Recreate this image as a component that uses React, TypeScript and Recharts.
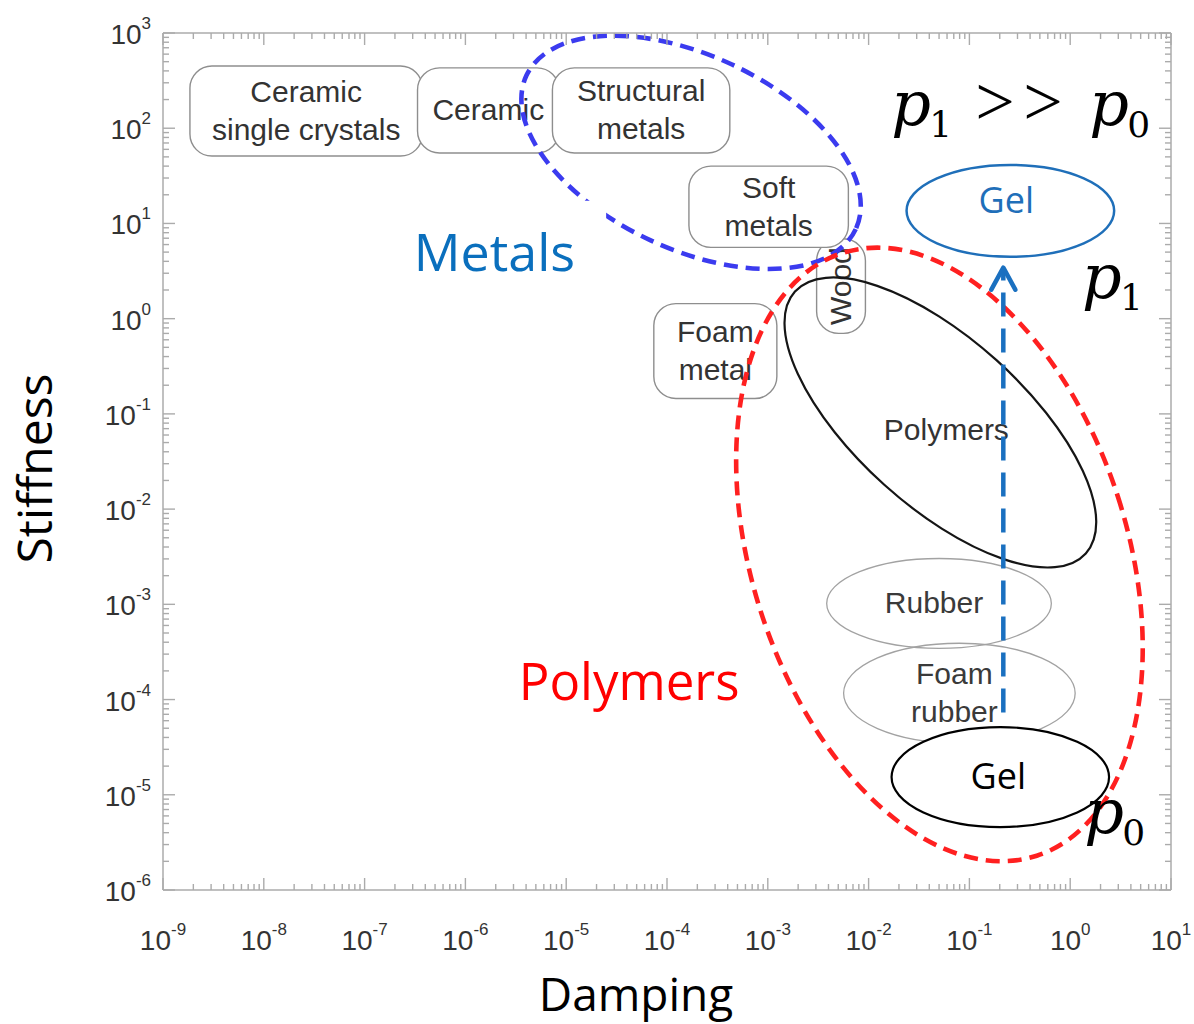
import React from 'react';
import { ScatterChart, Scatter, XAxis, YAxis, ReferenceArea, ReferenceLine, ReferenceDot } from 'recharts';

const dampingDecades = [1e-9, 1e-8, 1e-7, 1e-6, 1e-5, 1e-4, 1e-3, 1e-2, 1e-1, 1, 10];
const stiffnessDecades = [1e-6, 1e-5, 1e-4, 1e-3, 1e-2, 1e-1, 1, 10, 100, 1000];
const minorSteps = [2, 3, 4, 5, 6, 7, 8, 9];

// material classes shown as rounded boxes
const boxLabels = [['Ceramic', 'single crystals'], ['Ceramic'], ['Structural', 'metals'], ['Wood'], ['Soft', 'metals'], ['Foam', 'metal']];
const boxDamping = [[1.85e-9, 3.75e-7], [3.35e-7, 8.5e-6], [7.3e-6, 4.2e-4], [3.05e-3, 9.3e-3], [1.65e-4, 6.3e-3], [7.4e-5, 1.23e-3]];
const boxStiffness = [[51, 450], [55, 430], [55, 430], [0.7, 6.9], [5.6, 40], [0.145, 1.44]];

// material classes shown as ellipses
const ovalLabels = [['Rubber'], ['Foam', 'rubber']];
const ovalDamping = [[3.84e-3, 0.65], [5.65e-3, 1.12]];
const ovalStiffness = [[3.45e-4, 3.03e-3], [3.48e-5, 3.9e-4]];

// family envelopes: ranges along the ellipse axes before tilting
const envelopeNames = ['metals', 'polymers', 'polymerCore'];
const envelopeLabels = ['', '', 'Polymers'];
const envelopeDamping = [[2.73e-6, 0.011], [6.95e-4, 3.66], [5.9e-4, 4.5]];
const envelopeStiffness = [[5.36, 581], [1.58e-6, 7.07], [0.0107, 0.617]];

// gel before (p0) and after (p1)
const gelStates = ['p0', 'p1'];
const gelDamping = [[0.0169, 2.43], [0.0238, 2.73]];
const gelStiffness = [[4.58e-6, 5.13e-5], [4.47, 41.2]];

// gel stiffening path
const pathDamping = 0.217;
const pathStiffness = [7.3e-5, 3.43];

// free annotations [damping, stiffness]
const familyLabels = ['Metals', 'Polymers'];
const familyLabelAt = [[1.94e-6, 3.19], [4.21e-5, 9.84e-5]];
const metalsBackDamping = [2.22e-7, 2.49e-5];
const metalsBackStiffness = [2.11, 17.3];
const stateLabelAt = [[0.327, 108], [2.6, 1.66], [2.73, 3.96e-6]];

const gelCentres = gelStates.map((state, i) => ({
  state,
  damping: Math.sqrt(gelDamping[i][0] * gelDamping[i][1]),
  stiffness: Math.sqrt(gelStiffness[i][0] * gelStiffness[i][1]),
}));

const toTicks = (decades: number[]) =>
  decades.flatMap((d, i) => (i === decades.length - 1 ? [d] : [d, ...minorSteps.map((k) => k * d)]));
const dampingTicks = toTicks(dampingDecades);
const stiffnessTicks = toTicks(stiffnessDecades);
const majorDamping = new Set(dampingDecades);
const majorStiffness = new Set(stiffnessDecades);

const FRAME = '#ababab';
const frameLine = { stroke: FRAME, strokeWidth: 1.5 };
const sans = 'Liberation Sans, Arial, sans-serif';
const calibri = 'Open Sans, sans-serif';
const serif = 'DejaVu Serif, Liberation Serif, serif';

const envelopeStyle: Record<string, { stroke: string; dash?: string; width: number; tilt: number }> = {
  metals: { stroke: '#3b3bef', dash: '14 8', width: 4.6, tilt: 25 },
  polymers: { stroke: '#ff2020', dash: '14 8', width: 4.6, tilt: -17.9 },
  polymerCore: { stroke: '#151515', width: 2.2, tilt: 42 },
};

function LogTick(props: any) {
  const { x, y, payload, side } = props;
  const v = payload.value;
  const horiz = side === 'bottom' || side === 'top';
  const major = (horiz ? majorDamping : majorStiffness).has(v);
  const len = major ? 12 : 6;
  const exp = Math.round(Math.log10(v));
  let seg;
  if (side === 'bottom') seg = { x1: x, x2: x, y1: y, y2: y - len };
  else if (side === 'top') seg = { x1: x, x2: x, y1: y, y2: y + len };
  else if (side === 'left') seg = { x1: x, x2: x + len, y1: y, y2: y };
  else seg = { x1: x, x2: x - len, y1: y, y2: y };
  return (
    <g>
      <line {...seg} stroke={FRAME} strokeWidth={1.4} />
      {major && side === 'bottom' && (
        <text x={x} y={y + 60} textAnchor="middle" fontSize={28} fill="#333" fontFamily={sans}>
          10<tspan dy={-15} fontSize={17}>{exp}</tspan>
        </text>
      )}
      {major && side === 'left' && (
        <text x={x - 12} y={y + 11} textAnchor="end" fontSize={28} fill="#333" fontFamily={sans}>
          10<tspan dy={-15} fontSize={17}>{exp}</tspan>
        </text>
      )}
    </g>
  );
}

function lineStack(lines: string[], cx: number, cy: number, step: number, lift: number) {
  return lines.map((ln, i) => (
    <tspan key={i} x={cx} y={cy + (i - (lines.length - 1) / 2) * step + lift}>
      {ln}
    </tspan>
  ));
}

const boxShape = (lines: string[]) => (p: any) => {
  const { x, y, width, height } = p;
  const cx = x + width / 2;
  const cy = y + height / 2;
  const vertical = width < 60;
  return (
    <g>
      <rect x={x} y={y} width={width} height={height} rx={Math.min(22, width / 2)} fill="#fff" stroke="#8e8e8e" strokeWidth={1.4} />
      <text
        transform={vertical ? `rotate(-90 ${cx} ${cy})` : undefined}
        textAnchor="middle"
        fontSize={30}
        fill="#333"
        fontFamily={sans}
      >
        {lineStack(lines, cx, cy, 38, 10)}
      </text>
    </g>
  );
};

const ovalShape = (lines: string[]) => (p: any) => {
  const { x, y, width, height } = p;
  const cx = x + width / 2;
  const cy = y + height / 2;
  return (
    <g>
      <ellipse cx={cx} cy={cy} rx={width / 2} ry={height / 2} fill="none" stroke="#a2a2a2" strokeWidth={1.3} />
      <text textAnchor="middle" fontSize={30} fill="#3a3a3a" fontFamily={sans}>
        {lineStack(lines, cx - 5, cy, 38, 10)}
      </text>
    </g>
  );
};

const envelopeShape = (name: string, label: string) => (p: any) => {
  const { x, y, width, height } = p;
  const s = envelopeStyle[name];
  const cx = x + width / 2;
  const cy = y + height / 2;
  return (
    <g>
      <ellipse
        cx={cx}
        cy={cy}
        rx={width / 2}
        ry={height / 2}
        transform={`rotate(${s.tilt} ${cx} ${cy})`}
        fill="none"
        stroke={s.stroke}
        strokeWidth={s.width}
        strokeDasharray={s.dash}
      />
      {label && (
        <text x={cx + 6} y={cy + 18} textAnchor="middle" fontSize={30} fill="#333" fontFamily={sans}>
          {label}
        </text>
      )}
    </g>
  );
};

const gelShape = (state: string) => (p: any) => {
  const { x, y, width, height } = p;
  const cx = x + width / 2;
  const cy = y + height / 2;
  const color = state === 'p1' ? '#1f6fb9' : '#000';
  return (
    <g>
      <ellipse cx={cx} cy={cy} rx={width / 2} ry={height / 2} fill="#fff" stroke={color} strokeWidth={state === 'p1' ? 2.5 : 2.2} />
      <text x={state === 'p1' ? cx - 4 : cx - 2} y={state === 'p1' ? cy + 2 : cy + 12} textAnchor="middle" fontSize={36} fill={color} fontFamily={calibri}>
        Gel
      </text>
    </g>
  );
};

const PathArrow = (p: any) => {
  const { x1, y1, x2, y2 } = p;
  const color = '#1a70c0';
  const top = Math.min(y1, y2);
  const bottom = Math.max(y1, y2);
  return (
    <g>
      <line x1={x1} y1={bottom} x2={x2} y2={top + 2} stroke={color} strokeWidth={4.5} strokeDasharray="24 12" />
      <polyline
        points={`${x2 - 12},${top + 22} ${x2},${top} ${x2 + 12},${top + 22}`}
        fill="none"
        stroke={color}
        strokeWidth={4.5}
        strokeLinecap="round"
        strokeLinejoin="round"
      />
    </g>
  );
};

const familyText = (label: string) => (p: any) => (
  <text
    x={p.cx}
    y={p.cy}
    textAnchor="middle"
    fontSize={label === 'Metals' ? 52 : 51}
    fill={label === 'Metals' ? '#0a6fbd' : '#ff0000'}
    fontFamily={calibri}
  >
    {label}
  </text>
);

// p with a subscript, laid out from its anchor
function Pee({ cx, cy, sub, left }: { cx: number; cy: number; sub: string; left: number }) {
  return (
    <text y={cy} fontFamily={serif} fill="#000">
      <tspan x={cx + left} fontStyle="italic" fontSize={62}>
        p
      </tspan>
      <tspan x={cx + left + 38} dy={12} fontSize={36}>
        {sub}
      </tspan>
    </text>
  );
}

const stateText = (i: number) => (p: any) => {
  const { cx, cy } = p;
  if (i === 0) {
    return (
      <g>
        <Pee cx={cx} cy={cy} sub="1" left={-130} />
        <text y={cy} fontFamily="Liberation Serif, serif" fontSize={70} fill="#000">
          <tspan x={cx - 46}>{'>'}</tspan>
          <tspan x={cx + 2}>{'>'}</tspan>
        </text>
        <Pee cx={cx} cy={cy} sub="0" left={68} />
      </g>
    );
  }
  return <Pee cx={cx} cy={cy} sub={i === 1 ? '1' : '0'} left={-30} />;
};

const dampingTitle = (props: any) => {
  const vb = props.viewBox || { x: 163, y: 890, width: 1009, height: 134 };
  return (
    <text x={vb.x + vb.width / 2 - 31} y={vb.y + 121} textAnchor="middle" fontSize={46} fill="#000" fontFamily={calibri}>
      Damping
    </text>
  );
};

const stiffnessTitle = (props: any) => {
  const vb = props.viewBox || { x: 0, y: 32, width: 163, height: 858 };
  const x = vb.x + 52;
  const y = vb.y + vb.height / 2 + 7;
  return (
    <text x={x} y={y} transform={`rotate(-90 ${x} ${y})`} textAnchor="middle" fontSize={48} fill="#000" fontFamily={calibri}>
      Stiffness
    </text>
  );
};

const noMark = () => <g />;

export default function App() {
  const logX = { type: 'number' as const, scale: 'log' as const, dataKey: 'damping', domain: [1e-9, 10], allowDataOverflow: true, ticks: dampingTicks, interval: 0 as const, tickSize: 0, tickMargin: 0, tickLine: false, axisLine: frameLine };
  const logY = { type: 'number' as const, scale: 'log' as const, dataKey: 'stiffness', domain: [1e-6, 1e3], allowDataOverflow: true, ticks: stiffnessTicks, interval: 0 as const, tickSize: 0, tickMargin: 0, tickLine: false, axisLine: frameLine };
  return (
    <div style={{ position: 'absolute', left: 0, top: 0, width: 1194, height: 1024, background: '#fff' }}>
      <ScatterChart width={1194} height={1024} margin={{ top: 32, right: 22, bottom: 0, left: 0 }}>
        <XAxis xAxisId={0} {...logX} height={134} tick={<LogTick side="bottom" />} label={dampingTitle} />
        <XAxis xAxisId="top" orientation="top" {...logX} height={1} tick={<LogTick side="top" />} />
        <YAxis yAxisId={0} {...logY} width={163} tick={<LogTick side="left" />} label={stiffnessTitle} />
        <YAxis yAxisId="right" orientation="right" {...logY} width={1} tick={<LogTick side="right" />} />

        {boxLabels.map((lines, i) => (
          <ReferenceArea
            key={`box-${i}`}
            x1={boxDamping[i][0]}
            x2={boxDamping[i][1]}
            y1={boxStiffness[i][0]}
            y2={boxStiffness[i][1]}
            ifOverflow="visible"
            shape={boxShape(lines)}
          />
        ))}
        {ovalLabels.map((lines, i) => (
          <ReferenceArea
            key={`oval-${i}`}
            x1={ovalDamping[i][0]}
            x2={ovalDamping[i][1]}
            y1={ovalStiffness[i][0]}
            y2={ovalStiffness[i][1]}
            ifOverflow="visible"
            shape={ovalShape(lines)}
          />
        ))}
        {envelopeNames.slice(0, 1).map((name, i) => (
          <ReferenceArea
            key={`env-${name}`}
            x1={envelopeDamping[i][0]}
            x2={envelopeDamping[i][1]}
            y1={envelopeStiffness[i][0]}
            y2={envelopeStiffness[i][1]}
            ifOverflow="visible"
            shape={envelopeShape(name, envelopeLabels[i])}
          />
        ))}
        <ReferenceArea
          x1={metalsBackDamping[0]}
          x2={metalsBackDamping[1]}
          y1={metalsBackStiffness[0]}
          y2={metalsBackStiffness[1]}
          ifOverflow="visible"
          fill="#fff"
          fillOpacity={1}
          stroke="none"
        />
        {envelopeNames.slice(1).map((name, j) => {
          const i = j + 1;
          return (
            <ReferenceArea
              key={`env-${name}`}
              x1={envelopeDamping[i][0]}
              x2={envelopeDamping[i][1]}
              y1={envelopeStiffness[i][0]}
              y2={envelopeStiffness[i][1]}
              ifOverflow="visible"
              shape={envelopeShape(name, envelopeLabels[i])}
            />
          );
        })}
        {gelStates.map((state, i) => (
          <ReferenceArea
            key={`gel-${state}`}
            x1={gelDamping[i][0]}
            x2={gelDamping[i][1]}
            y1={gelStiffness[i][0]}
            y2={gelStiffness[i][1]}
            ifOverflow="visible"
            shape={gelShape(state)}
          />
        ))}
        <ReferenceLine
          segment={[
            { x: pathDamping, y: pathStiffness[0] },
            { x: pathDamping, y: pathStiffness[1] },
          ]}
          ifOverflow="visible"
          shape={PathArrow}
        />
        {familyLabels.map((label, i) => (
          <ReferenceDot
            key={label}
            x={familyLabelAt[i][0]}
            y={familyLabelAt[i][1]}
            ifOverflow="visible"
            shape={familyText(label)}
          />
        ))}
        {stateLabelAt.map((at, i) => (
          <ReferenceDot key={`state-${i}`} x={at[0]} y={at[1]} ifOverflow="visible" shape={stateText(i)} />
        ))}
        <Scatter data={gelCentres} isAnimationActive={false} shape={noMark} />
        <Scatter data={gelCentres} xAxisId="top" yAxisId="right" isAnimationActive={false} shape={noMark} />
      </ScatterChart>
    </div>
  );
}
